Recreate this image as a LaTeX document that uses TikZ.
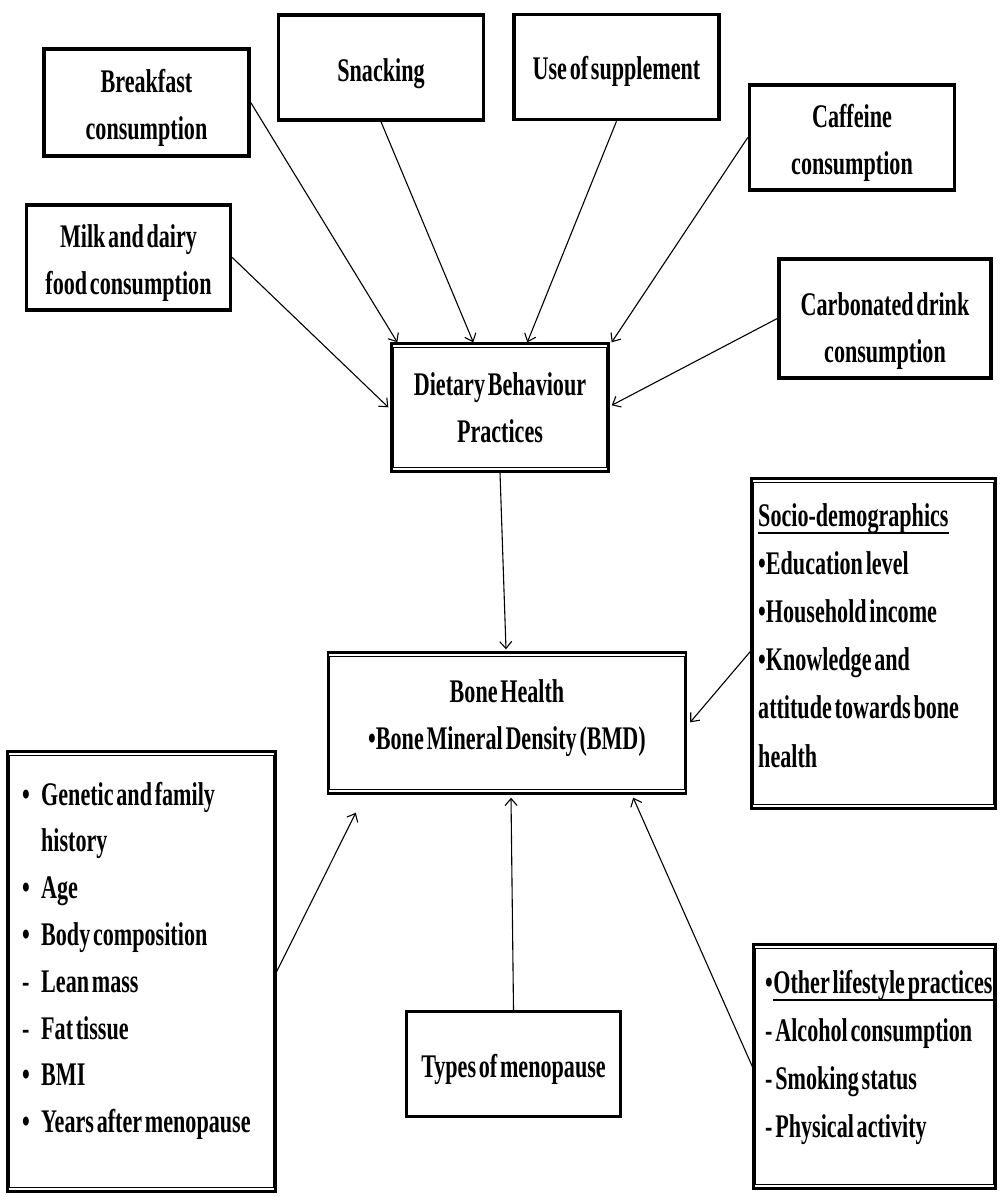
\documentclass[tikz,border=0pt]{standalone}
\usepackage{fontspec}
\setmainfont{Liberation Serif}[FakeStretch=0.67,WordSpace=0.5]
\usetikzlibrary{arrows.meta,calc}
\newcommand{\mystrut}[1]{\rule{0pt}{#1pt}}
\newcommand{\mydepth}[1]{\rule[-#1pt]{0pt}{#1pt}}
\tikzset{
  tbox/.style={draw, line width=3.5pt, inner sep=0pt, align=center},
  dbox/.style={draw, line width=2.4pt, inner sep=0pt, align=center},
  innerline/.style={line width=0.8pt},
  arr/.style={line width=1.1pt, -{Straight Barb[length=7pt,width=12pt]}},
  item/.style={anchor=base west, inner sep=0pt},
  uline/.style={line width=2.5pt},
}
\begin{document}
\begin{tikzpicture}[x=1pt,y=-1pt,font=\fontsize{33}{47}\selectfont\bfseries]
\fill[white] (0,0) rectangle (1001,1197);
% top boxes
\node[tbox, minimum width=205, minimum height=107] (brk) at (146.5,102.5) {\mystrut{34}Breakfast\\consumption};
\node[tbox, minimum width=205, minimum height=105] (snack) at (381,67.5) {\mystrut{36}Snacking};
\node[tbox, minimum width=205, minimum height=105] (supp) at (616.5,67) {\mystrut{32}Use of supplement};
\node[tbox, minimum width=205, minimum height=105] (caff) at (852,137.5) {\mystrut{35}Caffeine\\consumption};
\node[tbox, minimum width=204, minimum height=105] (milk) at (128.5,257.5) {\mystrut{35}Milk and dairy\\food consumption};
\node[tbox, minimum width=212, minimum height=119] (carb) at (885,318.5) {\mystrut{48}Carbonated drink\\consumption};
% central boxes
\node[dbox, minimum width=217, minimum height=128] (diet) at (500,407.5) {Dietary Behaviour\\Practices};
\draw[innerline] ($(diet.north west)+(3,5)$) rectangle ($(diet.south east)+(-3,-5)$);
\node[dbox, minimum width=358, minimum height=141] (bone) at (507,723) {Bone Health\\•Bone Mineral Density (BMD)\mydepth{17}};
\draw[innerline] ($(bone.north west)+(3,5)$) rectangle ($(bone.south east)+(-3,-5)$);
% side boxes
\node[dbox, minimum width=244, minimum height=330] (socio) at (873.5,643.5) {};
\draw[innerline] ($(socio.north west)+(3,5)$) rectangle ($(socio.south east)+(-3,-5)$);
\node[dbox, minimum width=268, minimum height=440] (leftb) at (141.5,971.5) {};
\draw[innerline] ($(leftb.north west)+(3,5)$) rectangle ($(leftb.south east)+(-3,-5)$);
\node[dbox, minimum width=242, minimum height=244] (life) at (874.5,1066.5) {};
\draw[innerline] ($(life.north west)+(3,5)$) rectangle ($(life.south east)+(-3,-5)$);
\node[tbox, minimum width=214, minimum height=105] (types) at (513.5,1064) {\mystrut{35}Types of menopause};
% socio text
\foreach \t [count=\i] in {Socio-demographics, •Education level, •Household income, •Knowledge and, attitude towards bone, health}
  \node[item] (soc\i) at (758, {526+48.2*(\i-1)}) {\t};
\draw[uline] ($(soc1.base west)+(0,7)$) -- ($(soc1.base east)+(0,7)$);
% lifestyle text
\node[item] (lfb) at (765,993) {•};
\node[item] (lf1) at (lfb.base east) {Other lifestyle practices};
\draw[uline] ($(lf1.base west)+(0,7)$) -- ($(lf1.base east)+(0,7)$);
\foreach \t [count=\i from 2] in {- Alcohol consumption, - Smoking status, - Physical activity}
  \node[item] (lf\i) at (765, {993+48*(\i-1)}) {\t};
% left text
\foreach \m/\t [count=\i] in {•/Genetic and family, /history, •/Age, •/Body composition, -/Lean mass, -/Fat tissue, •/BMI, •/Years after menopause}
  \node[item] (lt\i) at (22, {805+46.8*(\i-1)}) {\makebox[19pt][l]{\m}\t};
% arrows
\draw[arr] (brk.east) -- ($(diet.north west)+(7,0)$);
\draw[arr] (snack.south) -- ($(diet.north west)+(83,0)$);
\draw[arr] (supp.south) -- ($(diet.north west)+(137,0)$);
\draw[arr] (caff.west) -- ($(diet.north east)+(2,0)$);
\draw[arr] (milk.east) -- ($(diet.north west)+(-2,65)$);
\draw[arr] (carb.west) -- ($(diet.north east)+(2,63)$);
\draw[arr] (diet.south) -- ($(bone.north)+(-1,-2)$);
\draw[arr] ($(socio.west)+(0,8)$) -- ($(bone.north east)+(3,71)$);
\draw[arr] (leftb.east) -- ($(bone.south west)+(29,18)$);
\draw[arr] (types.north) -- ($(bone.south)+(4,3)$);
\draw[arr] (life.west) -- ($(bone.south east)+(-54,3)$);
\end{tikzpicture}
\end{document}
